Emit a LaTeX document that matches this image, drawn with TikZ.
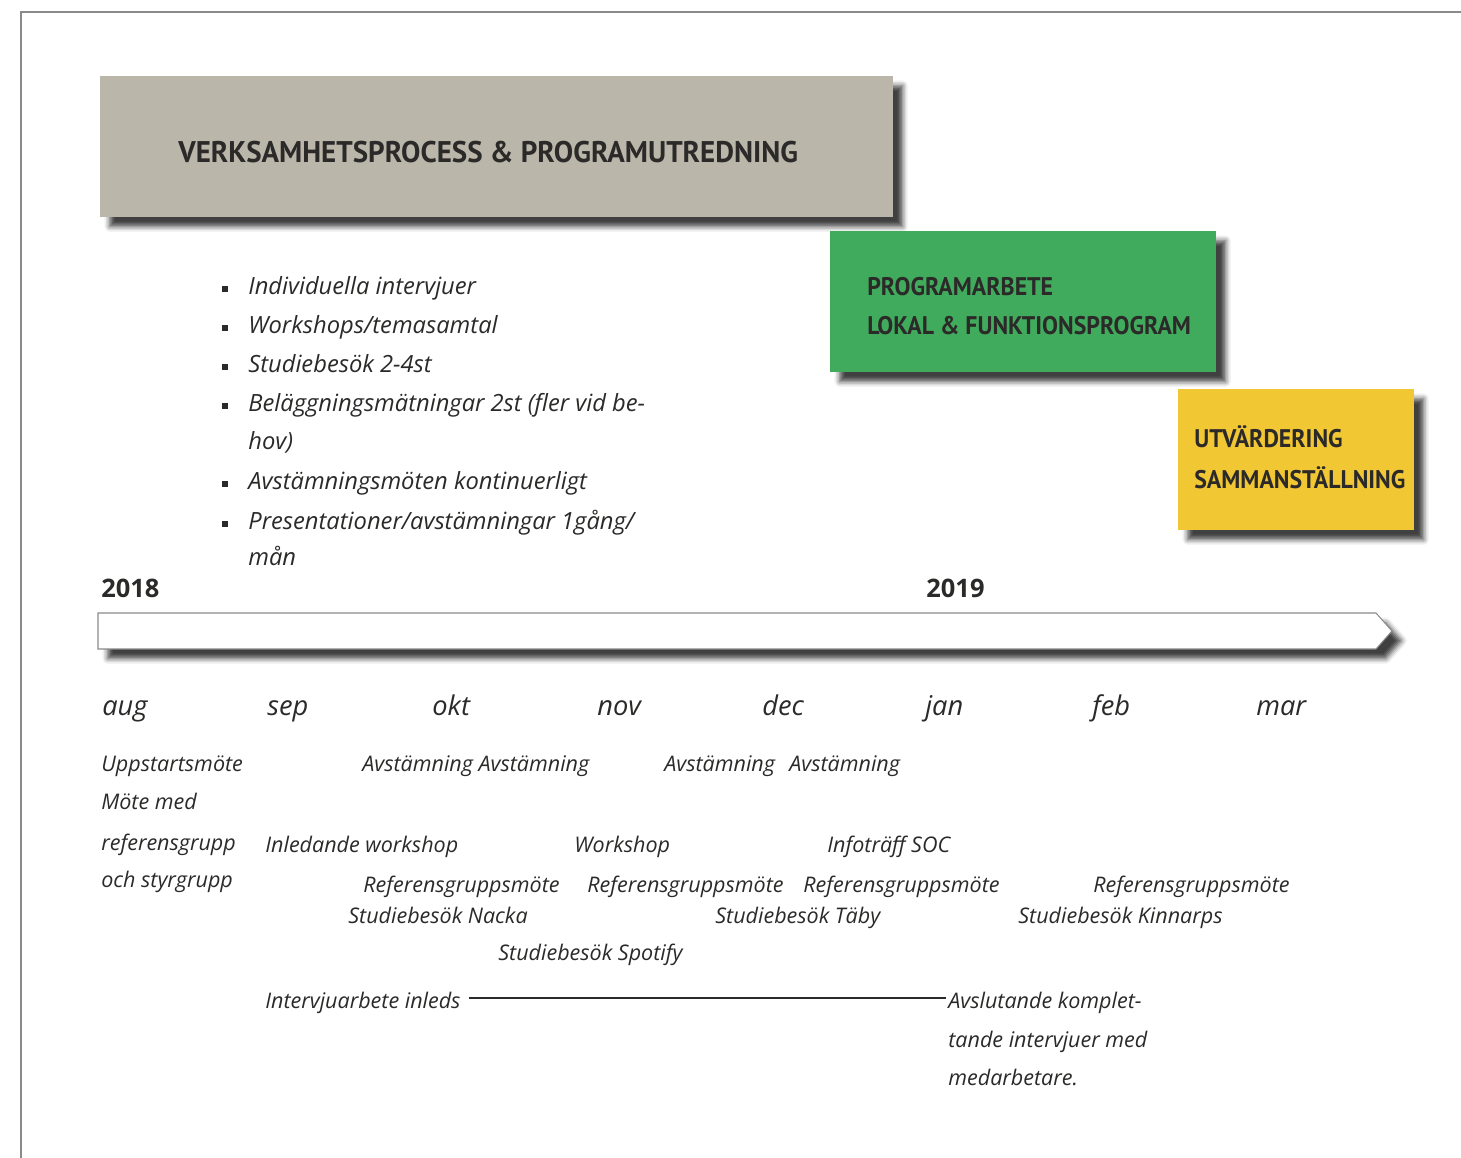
\documentclass[tikz,border=0pt]{standalone}
\usepackage{fontspec}
\setmainfont{Open Sans}
\newfontfamily\hdfont[FakeStretch=0.97]{PT Sans}
\newfontfamily\sbfont[FakeStretch=0.935]{PT Sans}
\usetikzlibrary{shadows.blur}
\definecolor{ink}{HTML}{2B2A29}
\definecolor{boxgray}{HTML}{BAB6AA}
\definecolor{boxgreen}{HTML}{41AB5D}
\definecolor{boxyellow}{HTML}{F2C734}
\definecolor{framegray}{HTML}{8A8A8A}
\tikzset{
  shd/.style={blur shadow={shadow xshift=5.5pt, shadow yshift=-5.5pt, shadow blur radius=3pt, shadow opacity=75}},
  txt/.style={anchor=base west, inner sep=0pt, text=ink},
  head/.style={txt, font=\hdfont\bfseries\fontsize{17}{20}\selectfont},
  subhead/.style={txt, font=\sbfont\bfseries\fontsize{14.5}{17}\selectfont},
  bul/.style={txt, font=\itshape\fontsize{13.5}{16}\selectfont},
  ev/.style={txt, font=\itshape\fontsize{12.25}{15}\selectfont},
  mon/.style={txt, font=\itshape\fontsize{15.5}{18}\selectfont},
  yr/.style={txt, font=\bfseries\fontsize{14.5}{17}\selectfont},
  sq/.style={rectangle, fill=ink, inner sep=0pt, minimum size=0.11cm},
  conn/.style={draw=ink, line width=1.3pt}
}
\begin{document}
\begin{tikzpicture}[x=0.02cm, y=-0.02cm]
\useasboundingbox (0,0) rectangle (1461,1158);
% frame
\draw[framegray, line width=0.6pt] (21,1158) -- (21,12) -- (1461,12);
% boxes
\fill[boxgray, shd] (100,76) rectangle (893,217);
\fill[boxgreen, shd] (830,231) rectangle (1216,372);
\fill[boxyellow, shd] (1178,389) rectangle (1414,530);
% box texts
\node[head] (h1) at (178,163) {VERKSAMHETSPROCESS \& PROGRAMUTREDNING};
\node[subhead] (g1) at (867,296) {PROGRAMARBETE};
\node[subhead] (g2) at (867,335) {LOKAL \& FUNKTIONSPROGRAM};
\node[subhead] (y1) at (1194,448) {UTVÄRDERING};
\node[subhead] (y2) at (1194,489) {SAMMANSTÄLLNING};
% bullets
\node[sq] (s1) at (225,289) {};
\node[sq] (s2) at (225,328) {};
\node[sq] (s3) at (225,367) {};
\node[sq] (s4) at (225,406) {};
\node[sq] (s5) at (225,484) {};
\node[sq] (s6) at (225,524) {};
\node[bul] (l1) at (248,295) {Individuella intervjuer};
\node[bul] (l2) at (248,334) {Workshops/temasamtal};
\node[bul] (l3) at (248,373) {Studiebesök 2-4st};
\node[bul] (l4) at (248,412) {Beläggningsmätningar 2st (fler vid be-};
\node[bul] (l4b) at (248,450) {hov)};
\node[bul] (l5) at (248,490) {Avstämningsmöten kontinuerligt};
\node[bul] (l6) at (248,530) {Presentationer/avstämningar 1gång/};
\node[bul] (l6b) at (248,566) {mån};
% years
\node[yr] (y2018) at (101,598) {2018};
\node[yr] (y2019) at (926,598) {2019};
% timeline arrow
\filldraw[fill=white, draw=framegray, line width=0.6pt, shd] (98,613) -- (1376,613) -- (1392,631) -- (1376,649) -- (98,649) -- cycle;
% months
\node[mon] (m1) at (102,715) {aug};
\node[mon] (m2) at (267,715) {sep};
\node[mon] (m3) at (432,715) {okt};
\node[mon] (m4) at (597,715) {nov};
\node[mon] (m5) at (762,715) {dec};
\node[mon] (m6) at (925,715) {jan};
\node[mon] (m7) at (1092,715) {feb};
\node[mon] (m8) at (1256,715) {mar};
% events
\node[ev] (up) at (101,771) {Uppstartsmöte};
\node[ev] (mm) at (101,809) {Möte med};
\node[ev] (rg) at (101,850) {referensgrupp};
\node[ev] (os) at (101,887) {och styrgrupp};
\node[ev] (av1) at (362,771) {Avstämning Avstämning};
\node[ev] (av2) at (664,771) {Avstämning};
\node[ev] (av3) at (789,771) {Avstämning};
\node[ev] (iw) at (265,852) {Inledande workshop};
\node[ev] (ws) at (574,852) {Workshop};
\node[ev] (is) at (827,852) {Infoträff SOC};
\node[ev] (rm1) at (363,892) {Referensgruppsmöte};
\node[ev] (rm2) at (587,892) {Referensgruppsmöte};
\node[ev] (rm3) at (803,892) {Referensgruppsmöte};
\node[ev] (rm4) at (1093,892) {Referensgruppsmöte};
\node[ev] (sn) at (348,923) {Studiebesök Nacka};
\node[ev] (st) at (715,923) {Studiebesök Täby};
\node[ev] (sk) at (1018,923) {Studiebesök Kinnarps};
\node[ev] (ss) at (498,960) {Studiebesök Spotify};
\node[ev] (ii) at (265,1008) {Intervjuarbete inleds};
\node[ev] (a1) at (948,1008) {Avslutande komplet-};
\node[ev] (a2) at (948,1047) {tande intervjuer med};
\node[ev] (a3) at (948,1085) {medarbetare.};
\draw[conn] ([shift={(8,-10)}]ii.base east) -- ([shift={(-2,-10)}]a1.base west);
\end{tikzpicture}
\end{document}
